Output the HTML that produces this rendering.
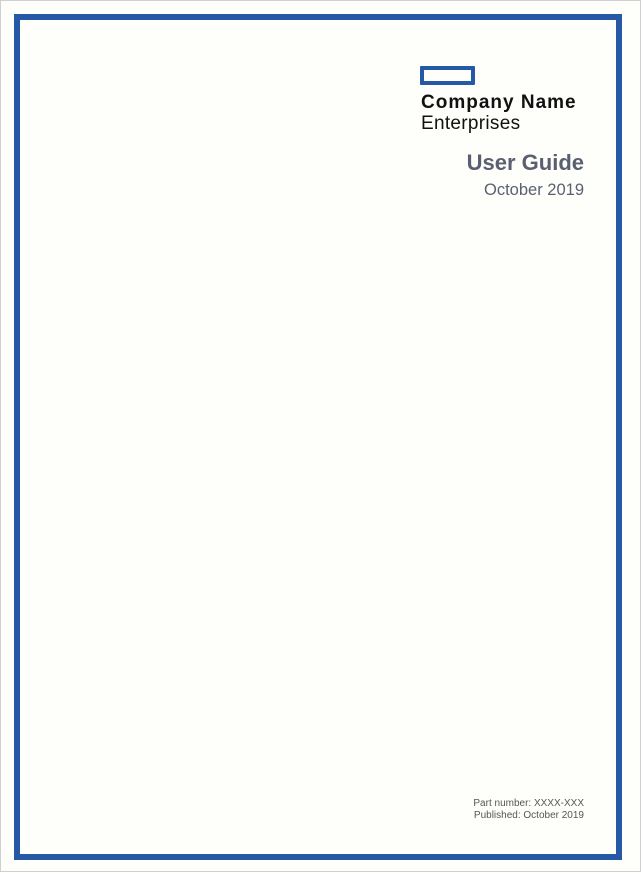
<!DOCTYPE html>
<html><head><style>
html,body{margin:0;padding:0;}
body{width:641px;height:873px;position:relative;background:#fff;font-family:"Liberation Sans",sans-serif;overflow:hidden;}
.page{position:absolute;left:0;top:0;width:639px;height:870px;border:1px solid #cfcfcf;background:#fefefb;}
.frame{position:absolute;left:14px;top:14px;width:596px;height:834px;border:6px solid #2559a5;}
.logo{position:absolute;left:420px;top:66px;width:47px;height:11px;border:4px solid #2559a5;border-radius:1px;}
.cn{position:absolute;left:421px;top:92px;font-size:19px;font-weight:bold;color:#111;white-space:nowrap;letter-spacing:1px;}
.en{position:absolute;left:421px;top:113px;font-size:19px;color:#111;white-space:nowrap;letter-spacing:0.3px;}
.r{position:absolute;right:57px;white-space:nowrap;text-align:right;color:#5a6070;}
</style></head><body>
<div class="page"></div>
<div class="frame"></div>
<div class="logo"></div>
<div class="cn">Company Name</div>
<div class="en">Enterprises</div>
<div class="r" style="top:150px;font-size:22px;font-weight:bold;">User Guide</div>
<div class="r" style="top:181px;font-size:16.5px;">October 2019</div>
<div class="r" style="top:798px;font-size:10px;line-height:12px;color:#555;">Part number: XXXX-XXX<br>Published: October 2019</div>
</body></html>
